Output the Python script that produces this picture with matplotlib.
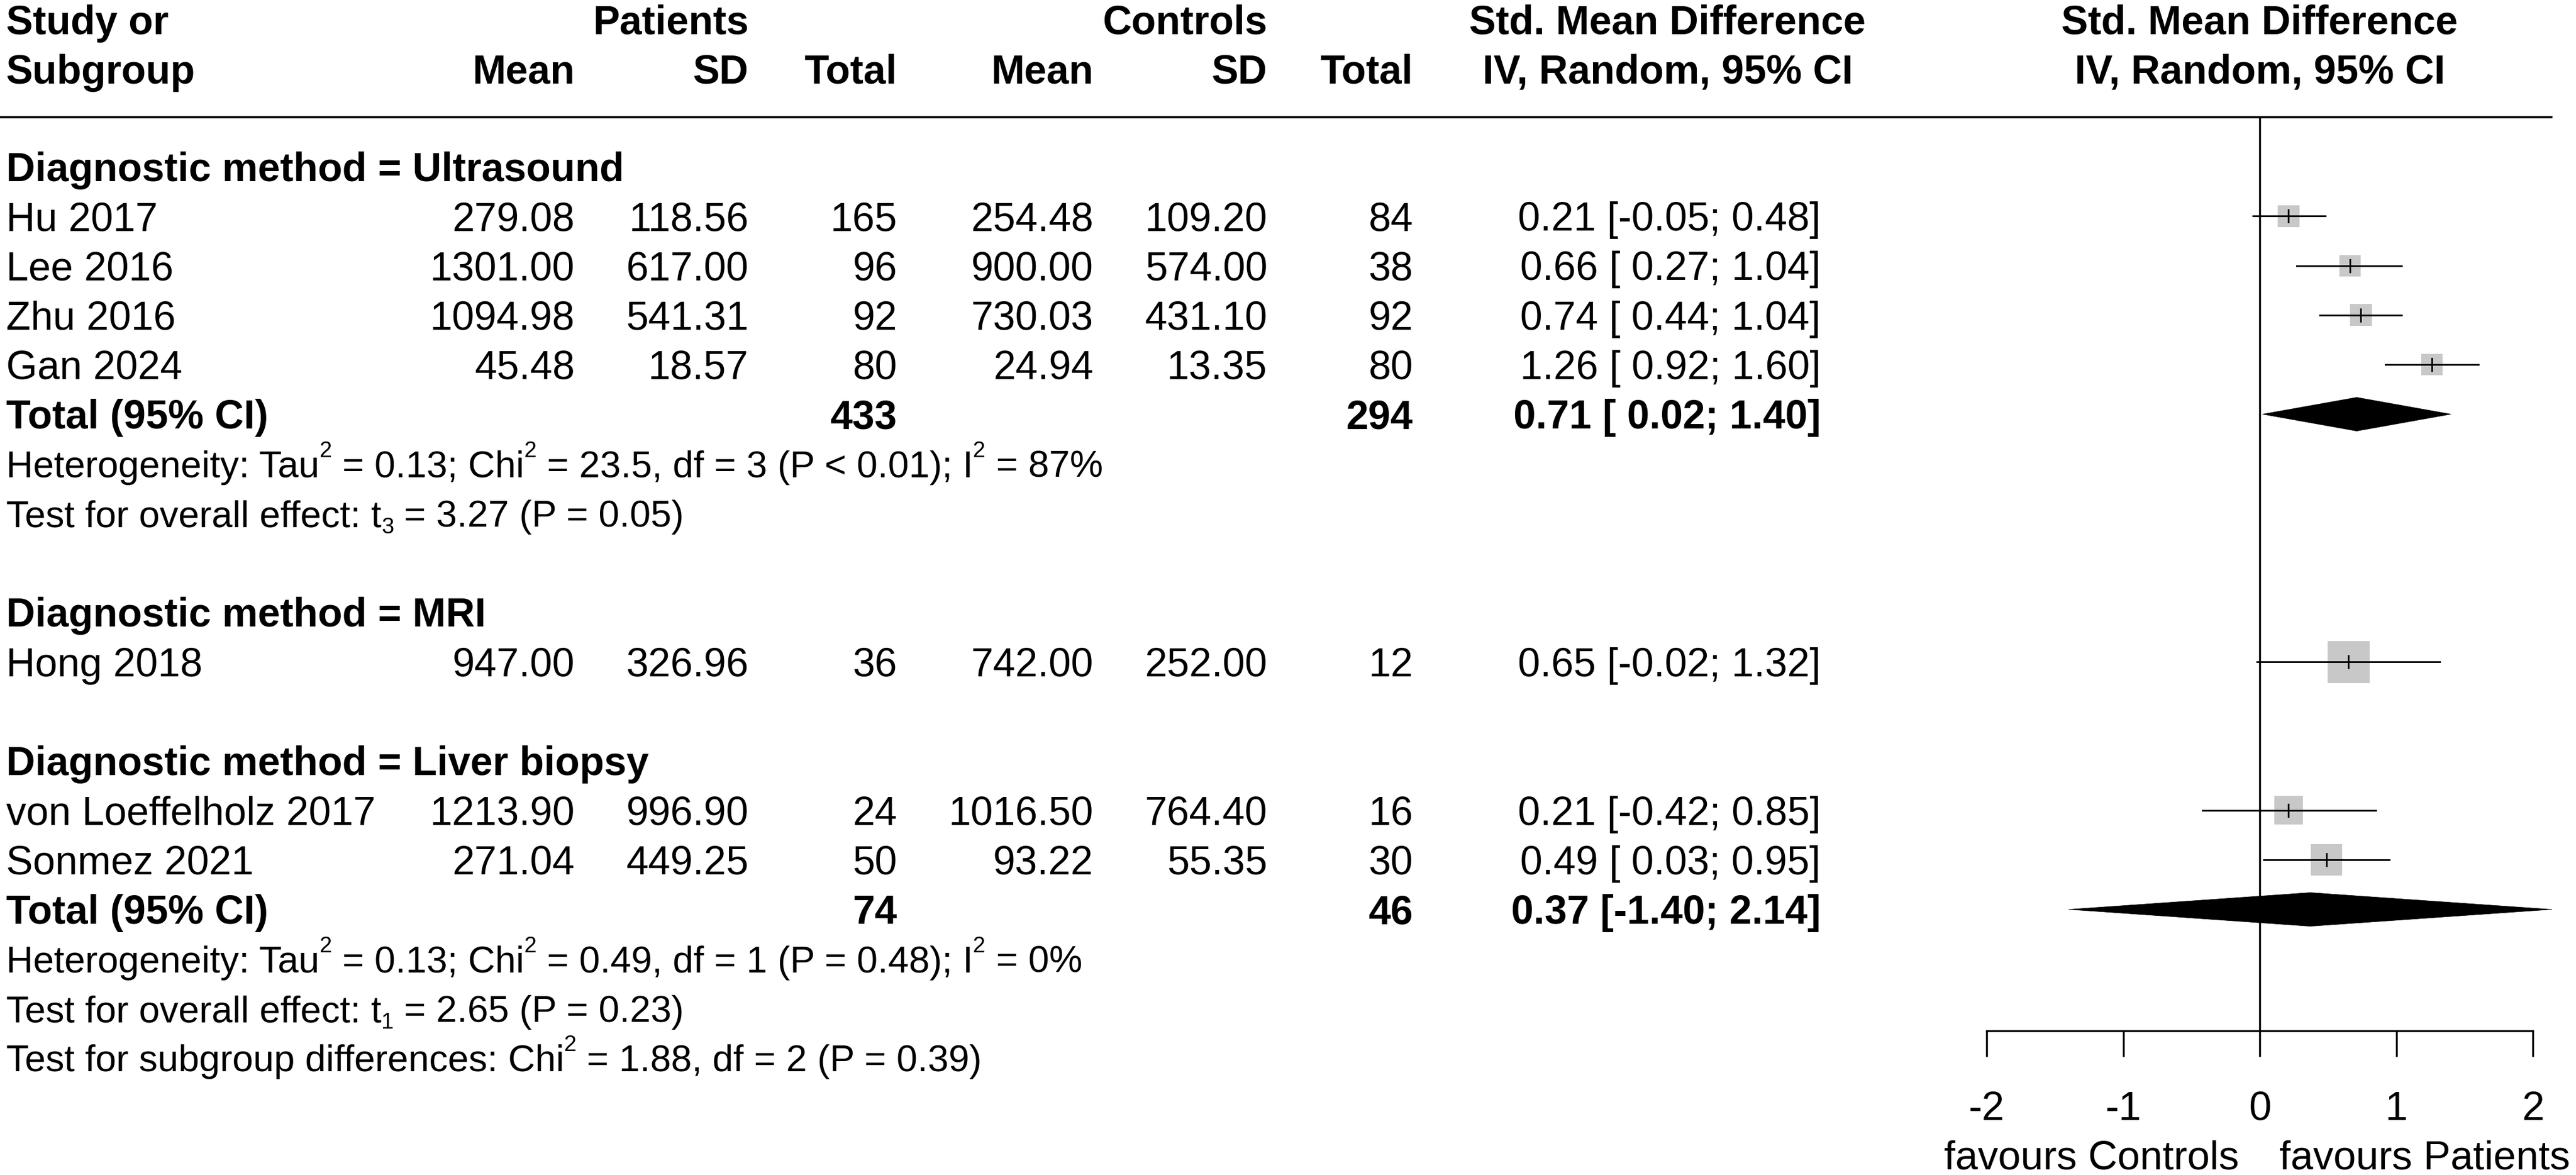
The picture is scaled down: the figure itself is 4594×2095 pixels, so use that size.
import matplotlib
matplotlib.use("Agg")
import matplotlib.pyplot as plt
from matplotlib.patches import Rectangle, Polygon

plt.rcParams['font.family'] = ['Liberation Sans', 'DejaVu Sans']

# ---------------- data ----------------
group_names = ["Ultrasound", "MRI", "Liver biopsy"]
studies = ["Hu 2017", "Lee 2016", "Zhu 2016", "Gan 2024",
           "Hong 2018", "von Loeffelholz 2017", "Sonmez 2021"]
study_group = [0, 0, 0, 0, 1, 2, 2]
pat_mean = [279.08, 1301.00, 1094.98, 45.48, 947.00, 1213.90, 271.04]
pat_sd = [118.56, 617.00, 541.31, 18.57, 326.96, 996.90, 449.25]
pat_n = [165, 96, 92, 80, 36, 24, 50]
ctl_mean = [254.48, 900.00, 730.03, 24.94, 742.00, 1016.50, 93.22]
ctl_sd = [109.20, 574.00, 431.10, 13.35, 252.00, 764.40, 55.35]
ctl_n = [84, 38, 92, 80, 12, 16, 30]
smd = [0.21, 0.66, 0.74, 1.26, 0.65, 0.21, 0.49]
ci_low = [-0.05, 0.27, 0.44, 0.92, -0.02, -0.42, 0.03]
ci_high = [0.48, 1.04, 1.04, 1.60, 1.32, 0.85, 0.95]

# pooled results (only groups with more than one study)
pooled_group = [0, 2]
pooled_pat_n = [433, 74]
pooled_ctl_n = [294, 46]
pooled_smd = [0.71, 0.37]
pooled_low = [0.02, -1.40]
pooled_high = [1.40, 2.14]
# rich text: (text, kind) with kind 'n' normal, 'sup' superscript, 'sub' subscript
heterogeneity = [
    [("Heterogeneity: Tau", 'n'), ("2", 'sup'), (" = 0.13; Chi", 'n'), ("2", 'sup'),
     (" = 23.5, df = 3 (P < 0.01); I", 'n'), ("2", 'sup'), (" = 87%", 'n')],
    [("Heterogeneity: Tau", 'n'), ("2", 'sup'), (" = 0.13; Chi", 'n'), ("2", 'sup'),
     (" = 0.49, df = 1 (P = 0.48); I", 'n'), ("2", 'sup'), (" = 0%", 'n')],
]
overall_effect = [
    [("Test for overall effect: t", 'n'), ("3", 'sub'), (" = 3.27 (P = 0.05)", 'n')],
    [("Test for overall effect: t", 'n'), ("1", 'sub'), (" = 2.65 (P = 0.23)", 'n')],
]
subgroup_test = [("Test for subgroup differences: Chi", 'n'), ("2", 'sup'),
                 (" = 1.88, df = 2 (P = 0.39)", 'n')]
x_ticks = [-2, -1, 0, 1, 2]
label_left = "favours Controls"
label_right = "favours Patients"

# square sizes (pixels) (reflect study weights)
box_px = [39, 38, 39, 38, 75, 51, 56]

# ---------------- layout ----------------
W, H, DPI = 4594, 2095, 100
ROW0, ROWH = 297.0, 88.3          # pixel y of row 0, pixels per row
FS = 51.5
FS_STAT = 48
SCRIPT = 0.6
TOP_LINE_PX, AXIS_PX = 209.0, 1838.0
X_M2, X_P2 = 3543.0, 4517.0        # pixel x of -2 and +2
UNIT = (X_P2 - X_M2) / 4.0
BASE = 25.7 / ROWH                 # baseline offset (half cap height) in rows
BASE_STAT = 24.0 / ROWH
SUP_DY = -36.0 / ROWH
SUB_DY = 12.0 / ROWH

def prow(px):
    return (px - ROW0) / ROWH

fig = plt.figure(figsize=(W / DPI, H / DPI), dpi=DPI)
fig.patch.set_facecolor('white')
renderer = fig.canvas.get_renderer()

ax_t = fig.add_axes([0, 0, 1, 1])
ax_t.set_xlim(0, W)
ax_t.set_ylim(prow(H), prow(0))
ax_t.axis('off')

ax_f = fig.add_axes([X_M2 / W, (H - AXIS_PX) / H, (X_P2 - X_M2) / W, (AXIS_PX - TOP_LINE_PX) / H])
ax_f.set_xlim(-2, 2)
ax_f.set_ylim(prow(AXIS_PX), prow(TOP_LINE_PX))
ax_f.patch.set_alpha(0)
for s in ['top', 'left', 'right']:
    ax_f.spines[s].set_visible(False)
ax_f.spines['bottom'].set_linewidth(2.5)
ax_f.set_yticks([])
ax_f.set_xticks(x_ticks)
ax_f.set_xticklabels([str(t) for t in x_ticks])
ax_f.tick_params(axis='x', direction='out', length=33, width=2.5, pad=44, labelsize=52)

# column x positions (pixels)
X_STUDY = 11
X_PM, X_PSD, X_PN = 1025, 1335, 1600
X_CM, X_CSD, X_CN = 1950, 2260, 2520
X_CI = 3247
X_HDR_CI = 2974

def txt(x, row, s, ha='left', bold=False, ax=ax_t):
    ax.text(x, row + BASE, s, ha=ha, va='baseline', fontsize=FS,
            fontweight='bold' if bold else 'normal', clip_on=False)

def adv_width(s, size):
    t1 = ax_t.text(0, 0, "|" + s + "|", fontsize=size)
    t2 = ax_t.text(0, 0, "||", fontsize=size)
    w = t1.get_window_extent(renderer).width - t2.get_window_extent(renderer).width
    t1.remove()
    t2.remove()
    return w

def rich(x, row, segs):
    cur = x
    for s, kind in segs:
        size = FS_STAT if kind == 'n' else FS_STAT * SCRIPT
        dy = {'n': 0.0, 'sup': SUP_DY, 'sub': SUB_DY}[kind]
        ax_t.text(cur, row + BASE_STAT + dy, s, ha='left', va='baseline', fontsize=size,
                  clip_on=False)
        cur += adv_width(s, size)

# header
h1, h2 = prow(35), prow(123)
txt(X_STUDY, h1, "Study or", bold=True)
txt(X_STUDY, h2, "Subgroup", bold=True)
txt(X_PSD, h1, "Patients", ha='right', bold=True)
txt(X_PM, h2, "Mean", ha='right', bold=True)
txt(X_PSD, h2, "SD", ha='right', bold=True)
txt(X_PN, h2, "Total", ha='right', bold=True)
txt(X_CSD, h1, "Controls", ha='right', bold=True)
txt(X_CM, h2, "Mean", ha='right', bold=True)
txt(X_CSD, h2, "SD", ha='right', bold=True)
txt(X_CN, h2, "Total", ha='right', bold=True)
txt(X_HDR_CI, h1, "Std. Mean Difference", ha='center', bold=True)
txt(X_HDR_CI, h2, "IV, Random, 95% CI", ha='center', bold=True)
txt(0, h1, "Std. Mean Difference", ha='center', bold=True, ax=ax_f)
txt(0, h2, "IV, Random, 95% CI", ha='center', bold=True, ax=ax_f)

ax_t.plot([0, 4552], [prow(TOP_LINE_PX)] * 2, color='black', lw=2.9, solid_capstyle='butt')

# zero line
ax_f.axvline(0, color='black', lw=2.5, zorder=1)

def ci_str(e, lo, hi):
    return f"{e:.2f} [{lo:5.2f}; {hi:.2f}]"

row = 0
for g, gname in enumerate(group_names):
    txt(X_STUDY, row, f"Diagnostic method = {gname}", bold=True)
    row += 1
    for i in range(len(studies)):
        if study_group[i] != g:
            continue
        txt(X_STUDY, row, studies[i])
        txt(X_PM, row, f"{pat_mean[i]:.2f}", ha='right')
        txt(X_PSD, row, f"{pat_sd[i]:.2f}", ha='right')
        txt(X_PN, row, f"{pat_n[i]}", ha='right')
        txt(X_CM, row, f"{ctl_mean[i]:.2f}", ha='right')
        txt(X_CSD, row, f"{ctl_sd[i]:.2f}", ha='right')
        txt(X_CN, row, f"{ctl_n[i]}", ha='right')
        txt(X_CI, row, ci_str(smd[i], ci_low[i], ci_high[i]), ha='right')
        bw = box_px[i] / UNIT
        bh = box_px[i] / ROWH
        ax_f.add_patch(Rectangle((smd[i] - bw / 2, row - bh / 2), bw, bh,
                                 facecolor='#C8C8C8', edgecolor='none', zorder=2))
        ax_f.plot([ci_low[i], ci_high[i]], [row, row], color='black', lw=2.2,
                  zorder=3, clip_on=False)
        ax_f.plot([smd[i], smd[i]], [row - 0.125, row + 0.125], color='black',
                  lw=2.2, zorder=3)
        row += 1
    if g in pooled_group:
        k = pooled_group.index(g)
        txt(X_STUDY, row, "Total (95% CI)", bold=True)
        txt(X_PN, row, f"{pooled_pat_n[k]}", ha='right', bold=True)
        txt(X_CN, row, f"{pooled_ctl_n[k]}", ha='right', bold=True)
        txt(X_CI, row, ci_str(pooled_smd[k], pooled_low[k], pooled_high[k]), ha='right', bold=True)
        dh = 0.34
        ax_f.add_patch(Polygon([(pooled_low[k], row), (pooled_smd[k], row - dh),
                                (pooled_high[k], row), (pooled_smd[k], row + dh)],
                               closed=True, facecolor='black', edgecolor='black',
                               lw=0.5, zorder=4, clip_on=False))
        row += 1
        rich(X_STUDY, row, heterogeneity[k])
        row += 1
        rich(X_STUDY, row, overall_effect[k])
        row += 1
    row += 1

rich(X_STUDY, row - 1, subgroup_test)

# favours labels
ax_f.text(-0.15, prow(2059) + BASE, label_left, ha='right', va='baseline', fontsize=52, clip_on=False)
ax_f.text(0.145, prow(2059) + BASE, label_right, ha='left', va='baseline', fontsize=52, clip_on=False)

fig.savefig("out.png", dpi=DPI, facecolor='white')
